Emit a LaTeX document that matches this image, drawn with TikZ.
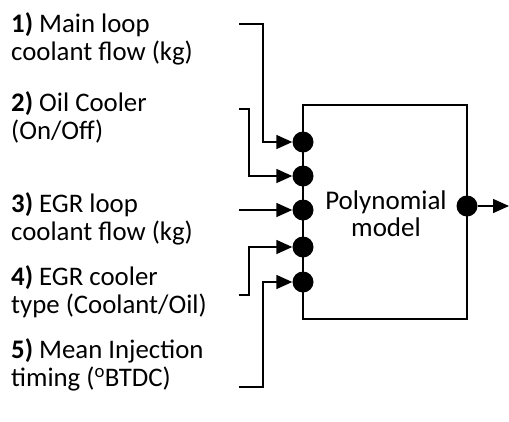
\documentclass[tikz,border=0pt]{standalone}
\usepackage{fontspec}
\setmainfont{Carlito}
\usetikzlibrary{arrows.meta}
\begin{document}
\begin{tikzpicture}[x=1pt,y=-1pt,
  wire/.style={line width=1.5pt},
  pin/.style={circle,fill=black,inner sep=0pt,minimum size=21pt},
  arr/.style={wire,-{Triangle[length=16pt,width=14pt]}},
  lbl/.style={anchor=base west,align=left,inner sep=0pt,font=\fontsize{26.8}{28.5}\selectfont},
  boxtxt/.style={align=center,inner sep=0pt,font=\fontsize{27}{27}\selectfont}]
\useasboundingbox (0,0) rectangle (509,421);
% model block
\node[draw,wire,minimum width=164pt,minimum height=214pt,inner sep=0pt] (box) at (385,212) {};
\node[boxtxt] (txt) at (386,214) {Polynomial\\model};
% pins
\node[pin] (p1) at (303,142) {};
\node[pin] (p2) at (303,176) {};
\node[pin] (p3) at (303,210) {};
\node[pin] (p4) at (303,247) {};
\node[pin] (p5) at (303,282) {};
\node[pin] (po) at (467,206) {};
% wire starts
\coordinate (s1) at (239,24);
\coordinate (s2) at (239,109);
\coordinate (s3) at (239,210);
\coordinate (s4) at (239,295);
\coordinate (s5) at (239,387);
\coordinate (out) at (509,206);
% labels (base = baseline of the last line)
\node[lbl] (l1) at (11,60.5) {\textbf{1)} Main loop\\coolant flow (kg)};
\node[lbl] (l2) at (11,139.5) {\textbf{2)} Oil Cooler\\(On/Off)};
\node[lbl] (l3) at (11,240.5) {\textbf{3)} EGR loop\\coolant flow (kg)};
\node[lbl] (l4) at (11,313.5) {\textbf{4)} EGR cooler\\type (Coolant/Oil)};
\node[lbl] (l5) at (11,386.5) {\textbf{5)} Mean Injection\\timing (\textsuperscript{o}BTDC)};
% connectors
\draw[arr] (s1) -| ([xshift=-40pt]p1.center) -- (p1);
\draw[arr] (s2) -| ([xshift=-54pt]p2.center) -- (p2);
\draw[arr] (s3) -- (p3);
\draw[arr] (s4) -| ([xshift=-54pt]p4.center) -- (p4);
\draw[arr] (s5) -| ([xshift=-40pt]p5.center) -- (p5);
\draw[arr] (po) -- (out);
\end{tikzpicture}
\end{document}
